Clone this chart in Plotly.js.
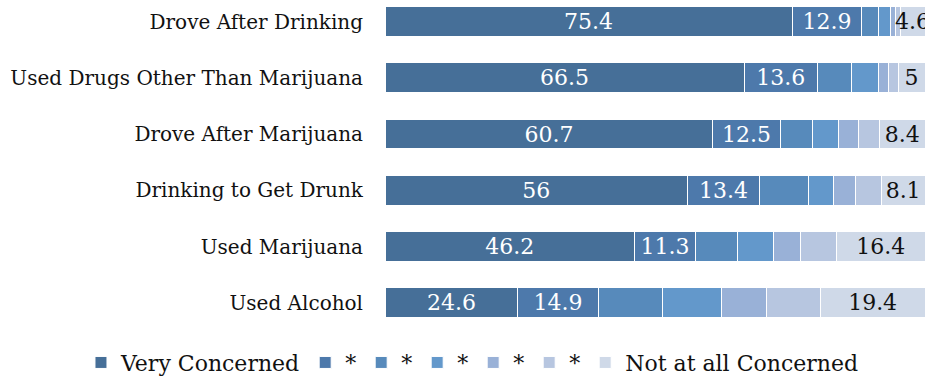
<!DOCTYPE html>
<html>
<head>
<meta charset="utf-8">
<script src="https://cdn.plot.ly/plotly-3.0.1.min.js"></script>
<style>html,body{margin:0;padding:0;background:#fff;}#chart{width:930px;height:386px;}</style>
</head>
<body>
<div id="chart"></div>
<script>
const categories = ["Drove After Drinking", "Used Drugs Other Than Marijuana", "Drove After Marijuana", "Drinking to Get Drunk", "Used Marijuana", "Used Alcohol"];
const seriesNames = ["Very Concerned", "*", "*", "*", "*", "*", "Not at all Concerned"];
const veryConcerned = [75.4, 66.5, 60.7, 56, 46.2, 24.6];
const level2 = [12.9, 13.6, 12.5, 13.4, 11.3, 14.9];
const level3 = [3.0, 6.3, 5.9, 9.1, 7.8, 11.8];
const level4 = [2.3, 4.9, 4.8, 4.5, 6.6, 11.0];
const level5 = [1.0, 1.9, 3.7, 4.2, 5.0, 8.4];
const level6 = [0.8, 1.8, 4.0, 4.7, 6.7, 9.9];
const notAtAll = [4.6, 5, 8.4, 8.1, 16.4, 19.4];
const seriesValues = [veryConcerned, level2, level3, level4, level5, level6, notAtAll];
const colors = ["#466f98", "#4d79ab", "#578abb", "#6398cb", "#99b1d7", "#b7c6e0", "#cfd9e8"];
const showLabels = [true, true, false, false, false, false, true];
const labelColors = ["#ffffff", "#ffffff", "#000", "#000", "#000", "#000", "#111111"];

const traces = seriesValues.map((vals, i) => ({
  type: "bar",
  orientation: "h",
  name: seriesNames[i],
  y: categories,
  x: vals,
  marker: {color: colors[i], line: {color: "#ffffff", width: 1}},
  text: showLabels[i] ? vals.map(v => String(v)) : undefined,
  texttemplate: showLabels[i] ? "%{text}" : "",
  textposition: showLabels[i] ? "inside" : "none",
  insidetextanchor: "middle",
  constraintext: "none",
  textangle: 0,
  textfont: {family: "DejaVu Serif", size: 22, color: labelColors[i]},
  hoverinfo: "x+y+name"
}));

const layout = {
  width: 930,
  height: 386,
  barmode: "stack",
  bargap: 0.47,
  margin: {l: 385, r: 5, t: 2, b: 56},
  paper_bgcolor: "#ffffff",
  plot_bgcolor: "#ffffff",
  font: {family: "DejaVu Serif", size: 20, color: "#111111"},
  showlegend: true,
  legend: {
    orientation: "h",
    xref: "paper", yref: "paper",
    x: -0.563, xanchor: "left",
    y: -0.1707, yanchor: "bottom",
    font: {family: "DejaVu Serif", size: 22, color: "#111111"},
    traceorder: "normal",
    itemwidth: 30,
    bgcolor: "rgba(0,0,0,0)"
  },
  xaxis: {range: [0, 100], visible: false, fixedrange: true},
  yaxis: {
    type: "category",
    categoryorder: "array",
    categoryarray: categories,
    range: [5.45, -0.35],
    showgrid: false, zeroline: false, showline: false,
    ticks: "", ticklabelstandoff: 21,
    tickfont: {family: "DejaVu Serif", size: 20, color: "#111111"},
    fixedrange: true
  }
};

Plotly.newPlot("chart", traces, layout, {displayModeBar: false, staticPlot: true});
</script>
</body>
</html>
